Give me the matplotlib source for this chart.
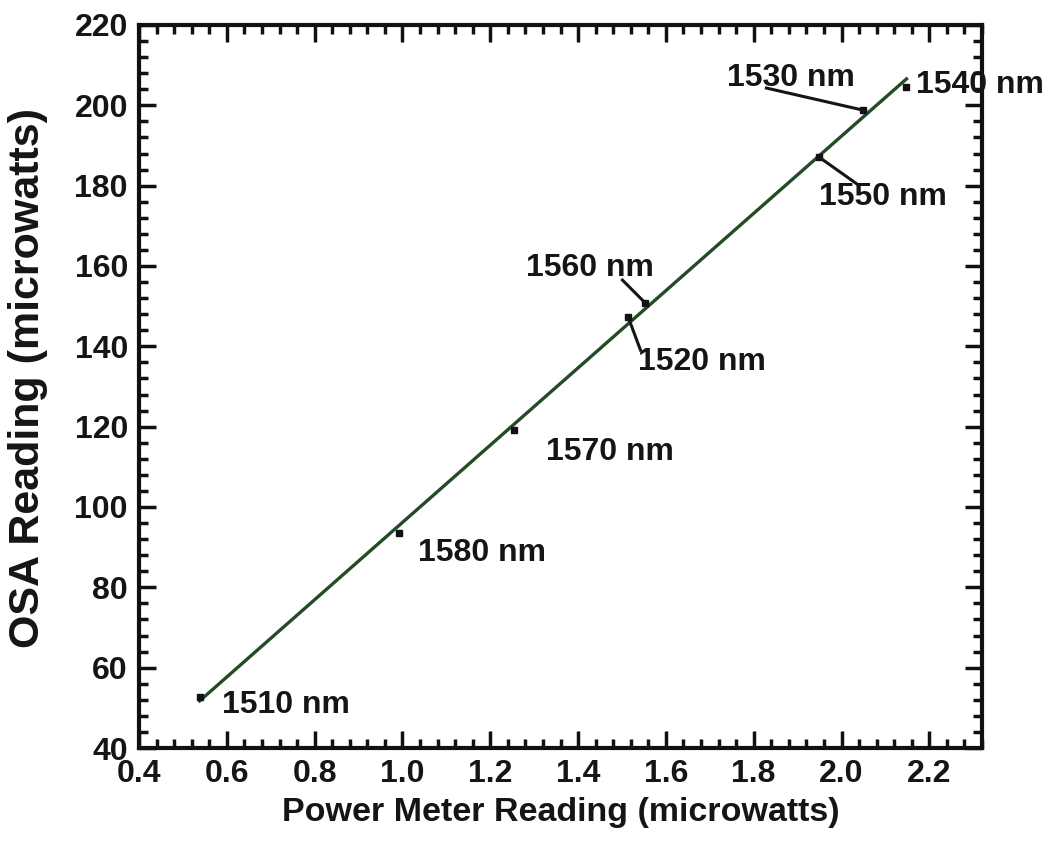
import numpy as np
import matplotlib
matplotlib.use("Agg")
import matplotlib.pyplot as plt
from matplotlib.ticker import MultipleLocator

# Power meter vs OSA readings at each wavelength
wavelengths = ["1510 nm", "1580 nm", "1570 nm", "1520 nm", "1560 nm", "1550 nm", "1530 nm", "1540 nm"]
power_meter = [0.538, 0.993, 1.255, 1.514, 1.553, 1.949, 2.049, 2.148]
osa_reading = [52.7, 93.5, 119.2, 147.3, 150.8, 187.1, 198.8, 204.5]

# label placement (left edge, vertical centre) and optional leader start
label_xy = [(0.588, 50.7), (1.036, 88.5), (1.326, 113.7), (1.537, 136.1),
            (1.281, 159.5), (1.949, 177.2), (1.739, 206.8), (2.169, 205.0)]
leader_from = [None, None, None, (1.542, 139.1),
               (1.501, 156.5), (2.038, 180.2), (1.829, 204.3), None]

FONT = ["Liberation Sans Narrow", "Liberation Sans", "DejaVu Sans"]
plt.rcParams["font.family"] = FONT
plt.rcParams["font.weight"] = "bold"

fig = plt.figure(figsize=(10.55, 8.5), dpi=100)
ax = fig.add_axes([0.1318, 0.12, 0.799, 0.8506])

x = np.array(power_meter)
y = np.array(osa_reading)

# least-squares fit through the measurements
slope, intercept = np.polyfit(x, y, 1)
xf = np.array([x.min(), x.max()])
ax.plot(xf, slope * xf + intercept, color="#b03020", lw=1.0, zorder=2)
ax.plot(xf, slope * xf + intercept, color="#264a26", lw=2.4, zorder=3)

ax.plot(x, y, ls="none", marker="s", ms=5, color="#111111", zorder=4)

for i, name in enumerate(wavelengths):
    tx, ty = label_xy[i]
    ax.text(tx, ty, name, fontsize=23, fontweight="bold", ha="left",
            va="center", color="#151515", zorder=5)
    if leader_from[i] is not None:
        lx, ly = leader_from[i]
        ax.plot([lx, x[i]], [ly, y[i]], color="#151515", lw=2.2, zorder=5)

ax.set_xlim(0.4, 2.32)
ax.set_ylim(40, 220)
ax.xaxis.set_major_locator(MultipleLocator(0.2))
ax.xaxis.set_minor_locator(MultipleLocator(0.04))
ax.yaxis.set_major_locator(MultipleLocator(20))
ax.yaxis.set_minor_locator(MultipleLocator(4))
ax.xaxis.set_major_formatter(plt.FuncFormatter(lambda v, p: f"{v:.1f}"))
ax.yaxis.set_major_formatter(plt.FuncFormatter(lambda v, p: f"{v:.0f}"))

ax.tick_params(which="both", direction="in", top=True, right=True,
               color="#111111", labelsize=23, labelcolor="#151515")
ax.tick_params(which="major", length=12, width=2.5, pad=8)
ax.tick_params(which="minor", length=6.5, width=2.5)
for lab in ax.get_xticklabels() + ax.get_yticklabels():
    lab.set_fontweight("bold")

for spine in ax.spines.values():
    spine.set_linewidth(3)
    spine.set_color("#111111")

ax.set_xlabel("Power Meter Reading (microwatts)", fontsize=24.5,
              fontweight="bold", color="#151515", labelpad=6)
ax.set_ylabel("OSA Reading (microwatts)", fontsize=31,
              fontweight="bold", color="#151515")
ax.yaxis.set_label_coords(-0.108, 0.512)

fig.savefig("out.png", dpi=100, facecolor="white")
